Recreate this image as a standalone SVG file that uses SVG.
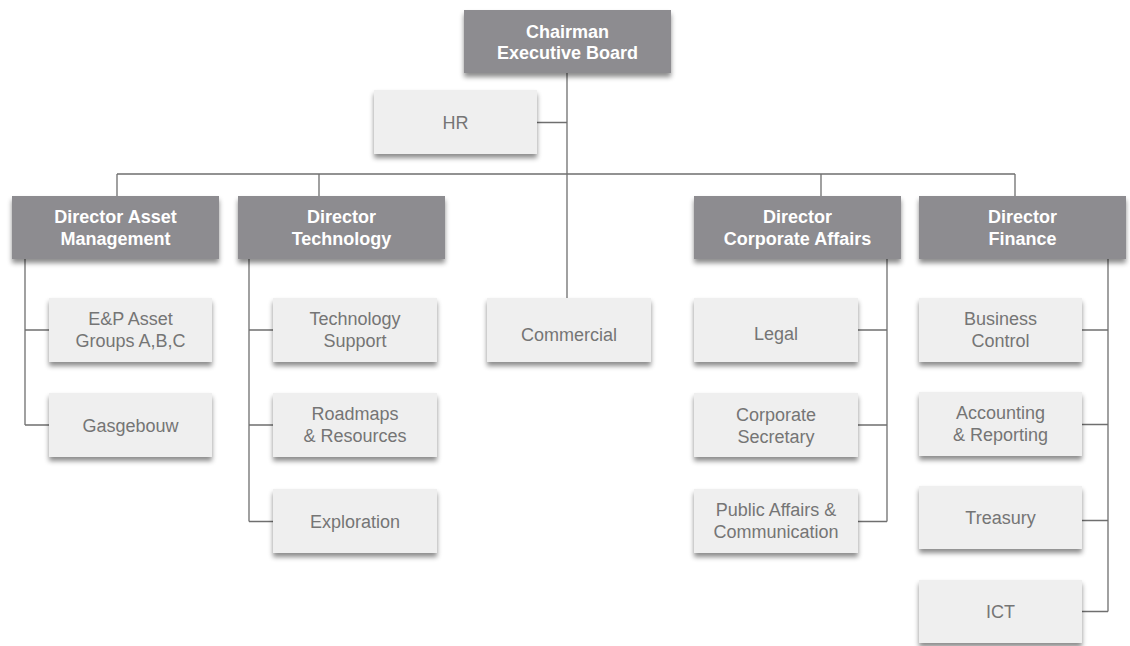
<svg xmlns="http://www.w3.org/2000/svg" width="1130" height="646" viewBox="0 0 1130 646">
<defs>
<filter id="sh" x="-10%" y="-10%" width="120%" height="140%">
<feDropShadow dx="0" dy="4" stdDeviation="2.5" flood-color="#000" flood-opacity="0.45"/>
</filter>
<style>
.d{fill:#8d8c90;filter:url(#sh)}
.l{fill:#efefef;filter:url(#sh)}
.dt{font-family:"Liberation Sans",Arial,sans-serif;font-size:18px;font-weight:bold;fill:#fff;text-anchor:middle}
.lt{font-family:"Liberation Sans",Arial,sans-serif;font-size:18px;fill:#757575;text-anchor:middle}
.c{fill:none;stroke:#6f6f6f;stroke-width:1.3}
</style>
</defs>
<rect width="1130" height="646" fill="#fff"/>
<g id="connectors">
<path class="c" d="M567,73V298M537,122.5H567M117,174H1015M117,174V196M319,174V196M821,174V196M1015,174V196"/>
<path class="c" d="M25,259V425M25,330H49M25,425H49"/>
<path class="c" d="M249,259V521.5M249,330H273M249,425H273M249,521.5H273"/>
<path class="c" d="M887,259V521.5M858,330H887M858,425H887M858,521.5H887"/>
<path class="c" d="M1108,259V611.5M1082,330H1108M1082,424.5H1108M1082,520.5H1108M1082,611.5H1108"/>
</g>
<g id="chairman"><rect class="d" x="464" y="10" width="207" height="63"/><text class="dt" x="567.5" y="37.5">Chairman</text><text class="dt" x="567.5" y="59">Executive Board</text></g>
<g id="hr"><rect class="l" x="374" y="90" width="163" height="64"/><text class="lt" x="455.5" y="129">HR</text></g>
<g id="dir-asset"><rect class="d" x="12" y="196" width="207" height="63"/><text class="dt" x="115.5" y="223">Director Asset</text><text class="dt" x="115.5" y="245">Management</text></g>
<g id="dir-tech"><rect class="d" x="238" y="196" width="207" height="63"/><text class="dt" x="341.5" y="223">Director</text><text class="dt" x="341.5" y="245">Technology</text></g>
<g id="dir-corp"><rect class="d" x="694" y="196" width="207" height="63"/><text class="dt" x="797.5" y="223">Director</text><text class="dt" x="797.5" y="245">Corporate Affairs</text></g>
<g id="dir-fin"><rect class="d" x="919" y="196" width="207" height="63"/><text class="dt" x="1022.5" y="223">Director</text><text class="dt" x="1022.5" y="245">Finance</text></g>
<g id="ep"><rect class="l" x="49" y="298" width="163" height="64"/><text class="lt" x="130.5" y="324.5">E&amp;P Asset</text><text class="lt" x="130.5" y="346.5">Groups A,B,C</text></g>
<g id="gas"><rect class="l" x="49" y="393" width="163" height="64"/><text class="lt" x="130.5" y="432">Gasgebouw</text></g>
<g id="techsup"><rect class="l" x="273" y="298" width="164" height="64"/><text class="lt" x="355" y="324.5">Technology</text><text class="lt" x="355" y="346.5">Support</text></g>
<g id="roadmaps"><rect class="l" x="273" y="393" width="164" height="64"/><text class="lt" x="355" y="419.5">Roadmaps</text><text class="lt" x="355" y="441.5">&amp; Resources</text></g>
<g id="exploration"><rect class="l" x="273" y="489" width="164" height="64"/><text class="lt" x="355" y="527.5">Exploration</text></g>
<g id="commercial"><rect class="l" x="487" y="298" width="164" height="64"/><text class="lt" x="569" y="341">Commercial</text></g>
<g id="legal"><rect class="l" x="694" y="298" width="164" height="64"/><text class="lt" x="776" y="339.5">Legal</text></g>
<g id="corpsec"><rect class="l" x="694" y="393" width="164" height="64"/><text class="lt" x="776" y="420.5">Corporate</text><text class="lt" x="776" y="442.5">Secretary</text></g>
<g id="public"><rect class="l" x="694" y="489" width="164" height="64"/><text class="lt" x="776" y="516">Public Affairs &amp;</text><text class="lt" x="776" y="538">Communication</text></g>
<g id="business"><rect class="l" x="919" y="298" width="163" height="64"/><text class="lt" x="1000.5" y="324.5">Business</text><text class="lt" x="1000.5" y="346.5">Control</text></g>
<g id="accounting"><rect class="l" x="919" y="392" width="163" height="64"/><text class="lt" x="1000.5" y="418.5">Accounting</text><text class="lt" x="1000.5" y="440.5">&amp; Reporting</text></g>
<g id="treasury"><rect class="l" x="919" y="486" width="163" height="63"/><text class="lt" x="1000.5" y="524">Treasury</text></g>
<g id="ict"><rect class="l" x="919" y="580" width="163" height="63"/><text class="lt" x="1000.5" y="617.5">ICT</text></g>
</svg>
